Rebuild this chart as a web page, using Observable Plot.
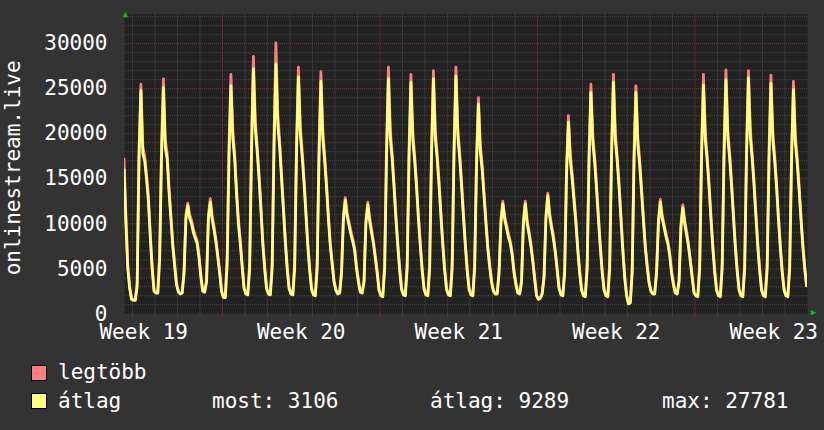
<!DOCTYPE html>
<html><head><meta charset="utf-8">
<script src="https://cdn.jsdelivr.net/npm/d3@7"></script>
<script src="https://cdn.jsdelivr.net/npm/@observablehq/plot@0.6"></script>
<style>
html,body{margin:0;padding:0;background:#333;}
body{width:824px;height:430px;position:relative;overflow:hidden;font-family:"DejaVu Sans Mono",monospace;color:#fff;}
.lg{position:absolute;font-size:21px;line-height:normal;white-space:pre;color:#fff;}
.sw{position:absolute;width:14px;height:14px;border:1px solid #000;}
</style></head><body>
<div id="chart"></div>
<div id="legend"></div>
<script>
// time axis in hours, 0 = Monday 00:00 of week 20; samples every 2 hours
const weekStartHours = [-105, 1, 169, 337, 505];
// week 19 (Wed 15h .. Sun)
const week19Avg = [16000,10000,5000,2800,1600,
  1500,1500,3000,17300,24800,17800,17000,15000,12500,8500,5000,2500,
  2300,2300,6000,17500,25100,18500,17200,13500,10500,7500,5300,3200,
  2400,2200,2300,4500,10500,12000,10600,10000,9000,8400,7800,6200,
  4000,2500,2400,3500,10500,12400,10500,9300,8000,6300,4500,2500];
const week19Max = [17200,11000,5500,3100,1700,
  1600,1600,3500,18300,25500,18600,17600,15500,13000,8900,5300,2700,
  2400,2400,6800,18800,26100,19300,17800,14000,11000,7900,5600,3400,
  2500,2300,2400,4800,11000,12300,11000,10400,9400,8700,8100,6500,
  4300,2600,2500,3800,11000,12800,10900,9700,8300,6600,4800,2600];
const week20Avg = [1800,1800,5500,17500,25300,19500,17200,13300,10000,7800,5200,2800,
  2200,2100,5000,18000,27200,20500,18000,15000,11500,7800,5000,2800,
  2200,2100,5000,18500,27781,21000,18500,15000,11500,8000,5000,2800,
  2200,2100,5000,18000,26300,20000,17500,14500,11000,7500,4800,2700,
  2100,2000,5000,17500,25800,19500,17000,14000,10500,7500,5500,3500,
  2600,2200,2300,4500,10500,12600,10800,9800,8800,8000,7000,5000,
  3500,2400,2300,3500,10000,12100,10300,9000,7800,6200,4500,2600];
const week20Max = [1900,1900,6500,19000,26600,20500,17800,13800,10500,8200,5500,3000,
  2300,2200,5800,19500,28600,21500,18700,15600,12000,8200,5300,3000,
  2300,2200,5800,20000,30100,22200,19200,15600,12000,8400,5300,3000,
  2300,2200,5800,19300,27400,20900,18100,15000,11500,7900,5100,2900,
  2200,2100,5800,18800,26900,20400,17600,14500,11000,7900,5800,3700,
  2700,2300,2400,4800,11000,12900,11200,10200,9200,8300,7300,5300,
  3800,2500,2400,3800,10500,12400,10700,9400,8100,6500,4800,2700];
const week21Avg = [2000,1900,5000,17500,26100,19500,17200,14000,10500,7500,4800,2700,
  2100,2000,5000,17300,25700,19300,17000,14000,10500,7500,4800,2700,
  2100,2000,5000,17500,26100,19500,17200,14200,10800,7600,4800,2700,
  2100,2000,5000,17800,26400,19800,17300,14200,10800,7600,4800,2700,
  2100,2000,5000,16500,23300,18000,16000,13000,10000,7200,5200,3500,
  2500,2200,2200,4500,10000,12200,10500,9500,8500,7800,6500,4500,
  3200,2300,2200,3500,10000,12200,10000,8800,7500,5800,3800,2000];
const week21Max = [2100,2000,5800,18800,27400,20400,17800,14500,11000,7900,5100,2900,
  2200,2100,5800,18500,26600,20200,17600,14500,11000,7900,5100,2900,
  2200,2100,5800,18800,27000,20400,17800,14700,11300,8000,5100,2900,
  2200,2100,5800,19000,27400,20700,17900,14700,11300,8000,5100,2900,
  2200,2100,5800,17600,24000,18800,16600,13500,10500,7600,5500,3700,
  2600,2300,2300,4800,10500,12500,10900,9900,8900,8100,6800,4800,
  3500,2400,2300,3800,10500,12500,10400,9200,7800,6100,4100,2100];
const week22Avg = [1600,1700,2200,4000,10500,13100,10800,9500,8300,6800,4800,2800,
  2100,2000,4500,15500,21300,17000,15000,12500,10000,7000,4500,2600,
  2000,1900,5000,17000,24600,19000,16800,13800,10500,7300,4600,2600,
  2000,1900,5000,17300,25700,19300,17000,14000,10500,7000,4000,2000,
  1100,1200,4500,17000,24600,18800,16500,13500,10300,7300,5200,3400,
  2500,2200,2200,4500,10000,12400,10600,9600,8600,7800,6500,4500,
  3200,2300,2200,3500,9500,11800,10000,8800,7500,5800,4000,2300];
const week22Max = [1700,1800,2300,4300,11000,13400,11200,9900,8700,7100,5100,3000,
  2200,2100,5200,16500,22000,17800,15600,13000,10500,7400,4800,2800,
  2100,2000,5800,18200,25500,19900,17400,14300,11000,7700,4900,2800,
  2100,2000,5800,18500,26600,20200,17600,14500,11000,7400,4300,2200,
  1200,1300,5200,18200,25300,19600,17100,14000,10800,7700,5500,3600,
  2600,2300,2300,4800,10500,12700,11000,10000,9000,8100,6800,4800,
  3500,2400,2300,3800,10000,12100,10400,9200,7800,6100,4300,2400];
const week23Avg = [2000,1900,5000,17300,25400,19300,17000,14000,10500,7300,4600,2600,
  2000,1900,5000,17500,26000,19500,17200,14200,10700,7400,4700,2600,
  2000,1900,5000,17500,26200,19600,17200,14200,10700,7400,4700,2600,
  2000,1900,5000,17300,25600,19300,17000,14000,10500,7300,4600,2600,
  2000,1900,5000,17000,24900,19000,16800,13800,10500,7500,5000,3106];
const week23Max = [2100,2000,5800,18500,26600,20200,17600,14500,11000,7700,4900,2800,
  2100,2000,5800,18800,27100,20400,17800,14700,11200,7800,5000,2800,
  2100,2000,5800,18800,27000,20500,17800,14700,11200,7800,5000,2800,
  2100,2000,5800,18500,26500,20200,17600,14500,11000,7700,4900,2800,
  2100,2000,5800,18200,25800,19900,17400,14300,11000,7900,5300,3300];

const yTicks = [0, 5000, 10000, 15000, 20000, 25000, 30000];
const weekLabels = ["Week 19", "Week 20", "Week 21", "Week 22", "Week 23"];
const weekLabelHours = [-84, 84, 252, 420, 588];
const weekLineHours = [0, 168, 336, 504];
const yAxisLabel = "onlinestream.live";
const seriesNames = ["legtöbb", "átlag"];
const seriesColors = ["#ff7f7f", "#ffff7f"];
const statNames = ["most", "átlag", "max"];
const statValues = [3106, 9289, 27781];

const avgWeeks = [week19Avg, week20Avg, week21Avg, week22Avg, week23Avg];
const maxWeeks = [week19Max, week20Max, week21Max, week22Max, week23Max];
const avgSeries = [], maxSeries = [];
weekStartHours.forEach((s, w) => {
  avgWeeks[w].forEach((v, i) => avgSeries.push({t: s + 2 * i, v}));
  maxWeeks[w].forEach((v, i) => maxSeries.push({t: s + 2 * i, v}));
});

const dayLines = d3.range(-96, 624, 24).filter(h => !weekLineHours.includes(h));
const minorY = d3.range(1000, 33001, 1000).filter(v => v % 5000 !== 0);
const majorY = yTicks.filter(v => v > 0);
const labelMap = new Map(weekLabelHours.map((h, i) => [h, weekLabels[i]]));

const chart = Plot.plot({
  width: 824, height: 345,
  marginLeft: 124, marginRight: 17, marginTop: 13.5, marginBottom: 31.7,
  style: {background: "#333", color: "#fff", fontFamily: "'DejaVu Sans Mono', monospace", fontSize: "21px", overflow: "visible"},
  x: {domain: [-104.5, 624], ticks: weekLabelHours, tickFormat: d => labelMap.get(d), tickSize: 0, tickPadding: 10, label: null},
  y: {domain: [0, 33300], ticks: yTicks, tickFormat: d => String(d), tickSize: 0, tickPadding: 17, label: null},
  marks: [
    Plot.frame({fill: "#222", stroke: null}),
    Plot.ruleY(minorY, {stroke: "#4a4a4a", strokeDasharray: "1,1"}),
    Plot.ruleX(dayLines, {stroke: "#4a4a4a", strokeDasharray: "1,1"}),
    Plot.ruleY(majorY, {stroke: "#7f3a3a", strokeDasharray: "1,1"}),
    Plot.ruleX(weekLineHours, {stroke: "#7f3a3a", strokeDasharray: "1,1"}),
    Plot.ruleX(dayLines, {y1: 0, y2: -250, stroke: "#4a4a4a"}),
    Plot.ruleX(weekLineHours, {y1: 0, y2: -250, stroke: "#7f3a3a"}),
    Plot.line(maxSeries, {x: "t", y: "v", stroke: seriesColors[0], strokeWidth: 2.8, clip: true}),
    Plot.line(avgSeries, {x: "t", y: "v", stroke: seriesColors[1], strokeWidth: 2.8, clip: true}),
    Plot.text([yAxisLabel], {frameAnchor: "left", textAnchor: "middle", rotate: -90, dx: -111, dy: 4, fill: "#fff", fontSize: 21}),
    Plot.text(["▲"], {frameAnchor: "top-left", textAnchor: "middle", dx: 1, dy: -3, fill: "#00c800", fontSize: 9}),
    Plot.text(["▶"], {frameAnchor: "bottom-right", textAnchor: "middle", dx: 6, dy: 1, fill: "#00c800", fontSize: 9})
  ]
});
document.getElementById("chart").appendChild(chart);

const legend = document.getElementById("legend");
function add(cls, css, text) {
  const el = document.createElement("div");
  el.className = cls;
  el.style.cssText = css;
  if (text != null) el.textContent = text;
  legend.appendChild(el);
}
add("sw", `left:31px;top:365px;background:${seriesColors[0]}`);
add("sw", `left:31px;top:393px;background:${seriesColors[1]}`);
add("lg", "left:58px;top:360px", seriesNames[0]);
add("lg", "left:58px;top:389px", seriesNames[1]);
add("lg", "left:212px;top:389px", `${statNames[0]}: ${statValues[0]}`);
add("lg", "left:430px;top:389px", `${statNames[1]}: ${statValues[1]}`);
add("lg", "left:662px;top:389px", `${statNames[2]}: ${statValues[2]}`);
</script>
</body></html>
